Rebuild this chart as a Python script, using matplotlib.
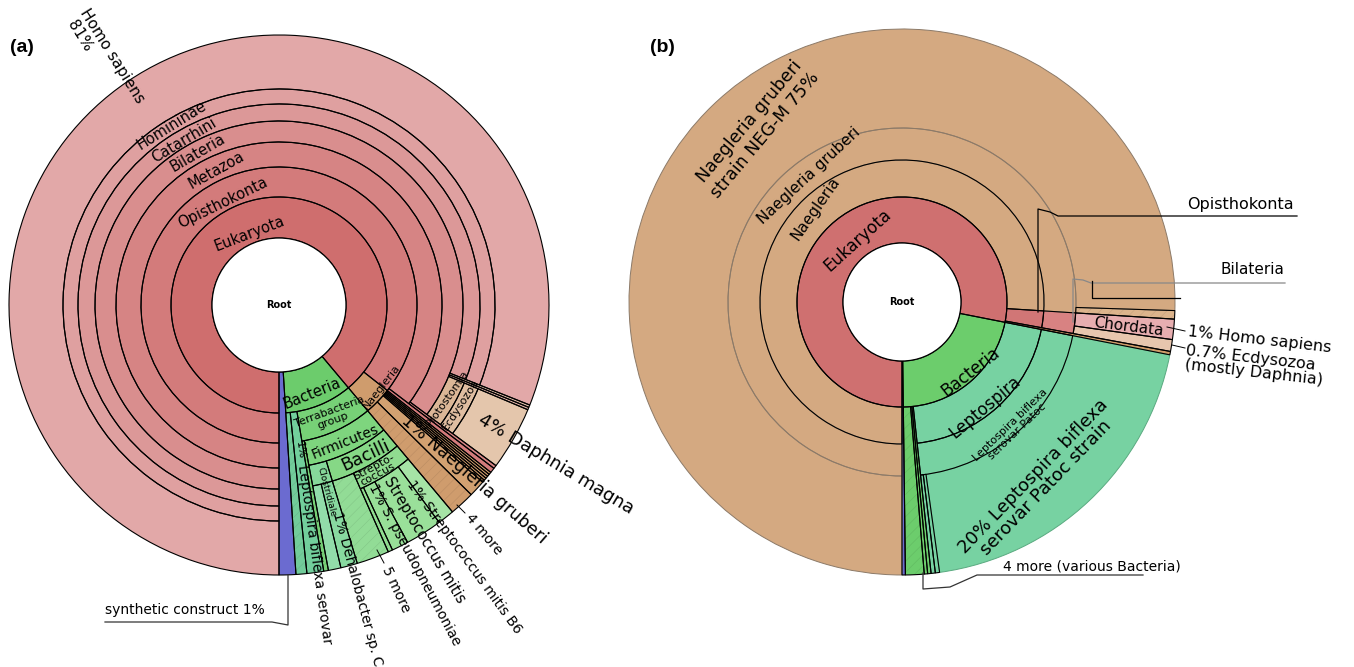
import matplotlib
matplotlib.use("Agg")
import matplotlib.pyplot as plt
from matplotlib.patches import Wedge, Circle
from matplotlib.colors import to_rgb

# ---------------- data: (name, own percent, children) ----------------
# "own" on a node that has children = reads not assigned lower (drawn hatched)

# panel (a)
bact_a = [
    ("Leptospira biflexa serovar", 1.0, []),
    ("Terrabacteria group", 0.28, [
        ("Firmicutes", 0.0, [
            ("Clostridia", 0.0, [
                ("Clostridiales", 0.75, []),
                ("Dehalobacter sp. C", 1.0, []),
            ]),
            ("Bacilli", 1.95, [
                ("Streptococcus", 0.27, [
                    ("S. pseudopneumoniae", 1.0, []),
                    ("Streptococcus mitis", 2.2, []),
                    ("Streptococcus mitis B6", 1.0, []),
                ]),
            ]),
        ]),
    ]),
]
naeg_a = [("Naegleria gruberi", 1.0, [])] + [("Naegleria other %d" % i, 0.15, []) for i in range(5)]
proto_a = [("Protostomia", 0.0, [("Ecdysozoa", 0.0, [("Daphnia magna", 3.8, [])])])]
bilat_other_a = [("Bilateria other 1", 0.15, []), ("Bilateria other 2", 0.15, [])]
homo_a = [("Catarrhini", 0.0, [("Homininae", 0.0, [("Homo sapiens", 81.0, [])])])]
tree_a = [
    ("synthetic construct", 1.0, []),
    ("Bacteria", 0.65, bact_a),
    ("Eukaryota", 0.0, [
        ("Naegleria", 1.5, naeg_a),
        ("Opisthokonta", 0.0, [
            ("Opisthokonta other", 0.3, []),
            ("Metazoa", 0.0, [
                ("Metazoa other", 0.2, []),
                ("Bilateria", 0.0, proto_a + bilat_other_a + homo_a),
            ]),
        ]),
    ]),
]

# panel (b)
bact_b = [
    ("Bacteria other 1", 0.2, []),
    ("Bacteria other 2", 0.2, []),
    ("Leptospira", 0.0, [
        ("Leptospira biflexa serovar Patoc", 0.0, [
            ("Patoc other 1", 0.25, []),
            ("Patoc other 2", 0.25, []),
            ("Leptospira biflexa serovar Patoc strain", 19.7, []),
        ]),
    ]),
]
tree_b = [
    ("synthetic construct", 0.2, []),
    ("Bacteria", 1.1, bact_b),
    ("Eukaryota", 0.0, [
        ("Naegleria sp.", 0.2, []),
        ("Opisthokonta", 0.0, [
            ("Bilateria", 0.0, [("Ecdysozoa", 0.7, []), ("Chordata", 1.2, [])]),
        ]),
        ("Naegleria", 0.0, [
            ("Naegleria gruberi", 0.5, [("Naegleria gruberi strain NEG-M", 75.5, [])]),
        ]),
    ]),
]

# ---------------- styles ----------------
colors_a = {
    "synthetic construct": "#6b6bd0",
    "Bacteria": "#6ccc6c", "Bacteria unassigned": "#72cc9a",
    "Leptospira biflexa serovar": "#72cf9c",
    "Terrabacteria group": "#77d177", "Firmicutes": "#7ed57e",
    "Clostridia": "#86d89a", "Clostridiales": "#92dcaa", "Dehalobacter sp. C": "#88d9a0",
    "Bacilli": "#86d886", "Bacilli unassigned": "#92dc96", "Streptococcus": "#90dc90",
    "S. pseudopneumoniae": "#98df98", "Streptococcus mitis": "#9ae09a",
    "Streptococcus mitis B6": "#a6e4a6",
    "Eukaryota": "#cf6e6e", "Naegleria": "#cf9c6d", "Naegleria gruberi": "#d2a171",
    "Opisthokonta": "#d37b7b", "Metazoa": "#d68484", "Bilateria": "#d98e8e",
    "Bilateria other 1": "#e2b4a8", "Bilateria other 2": "#e0bca8",
    "Protostomia": "#dcb797", "Ecdysozoa": "#e0bea2", "Daphnia magna": "#e4c6ac",
    "Catarrhini": "#dc9898", "Homininae": "#dfa0a0", "Homo sapiens": "#e2a8a8",
}
colors_b = {
    "synthetic construct": "#6b6bd0",
    "Bacteria": "#6ccd6c", "Leptospira": "#77d2a2",
    "Leptospira biflexa serovar Patoc": "#77d2a2",
    "Leptospira biflexa serovar Patoc strain": "#77d2a2",
    "Eukaryota": "#cf7070", "Naegleria sp.": "#d09a68",
    "Opisthokonta": "#d17676", "Bilateria": "#d88282",
    "Ecdysozoa": "#e7c6ae", "Chordata": "#e7aeb0",
    "Naegleria": "#d4a981", "Naegleria gruberi": "#d4a981",
    "Naegleria gruberi unassigned": "#dcb48c",
    "Naegleria gruberi strain NEG-M": "#d4a981",
}
soft_edges_b = {
    "Naegleria gruberi": "#8c7a68",
    "Naegleria gruberi strain NEG-M": "#8c7a68",
    "Leptospira biflexa serovar Patoc strain": "#5aaa80",
}

plt.rcParams["font.family"] = ["DejaVu Sans"]
plt.rcParams["hatch.linewidth"] = 0.4


def node_total(own, kids):
    return own + sum(node_total(o, k) for _, o, k in kids)


def layout(nodes, depth, start, deg_per, out, parent_color, colors):
    a = start
    for name, own, kids in nodes:
        span = node_total(own, kids) * deg_per
        col = colors.get(name, parent_color)
        out.append(dict(name=name, depth=depth, a1=a, a2=a + span,
                        leaf=not kids, color=col, hatch=False))
        if kids:
            b = a
            if own > 0:
                out.append(dict(name=name + " unassigned", depth=depth + 1, a1=b,
                                a2=b + own * deg_per, leaf=True,
                                color=colors.get(name + " unassigned", col), hatch=True))
                b += own * deg_per
            layout(kids, depth + 1, b, deg_per, out, col, colors)
        a += span


def darker(c, f=0.9):
    r, g, b = to_rgb(c)
    return (r * f, g * f, b * f)


def draw_panel(ax, tree, cx, cy, radii, start, colors, soft_edges=None):
    soft_edges = soft_edges or {}
    segs = []
    tot = sum(node_total(o, k) for _, o, k in tree)
    layout(tree, 1, start, 360.0 / tot, segs, "#cccccc", colors)
    shapes = []
    for s in segs:
        r_in = radii[s["depth"] - 1]
        r_out = radii[-1] if s["leaf"] else radii[s["depth"]]
        # screen angles (y axis points down) -> data angles
        t1, t2 = -s["a2"], -s["a1"]
        ax.add_patch(Wedge((cx, cy), r_out, t1, t2, width=r_out - r_in,
                           facecolor=s["color"], lw=0))
        if s["hatch"]:
            ax.add_patch(Wedge((cx, cy), r_out, t1, t2, width=r_out - r_in,
                               facecolor="none", edgecolor=darker(s["color"]),
                               hatch="///", lw=0))
        shapes.append((s["name"], (cx, cy), r_out, t1, t2, r_out - r_in))
    # outlines: soft ones first, black on top
    for name, c, r, t1, t2, w in shapes:
        if name in soft_edges:
            ax.add_patch(Wedge(c, r, t1, t2, width=w, fill=False,
                               edgecolor=soft_edges[name], lw=0.7))
    for name, c, r, t1, t2, w in shapes:
        if name not in soft_edges:
            ax.add_patch(Wedge(c, r, t1, t2, width=w, fill=False,
                               edgecolor="black", lw=0.8))
    ax.add_patch(Circle((cx, cy), radii[0], facecolor="white", edgecolor="black", lw=0.9))
    ax.text(cx, cy, "Root", ha="center", va="center", fontsize=7, fontweight="bold")


fig = plt.figure(figsize=(13.54, 6.67), dpi=100)
ax = fig.add_axes([0, 0, 1, 1])
ax.set_xlim(0, 1354)
ax.set_ylim(667, 0)
ax.set_aspect("equal")
ax.axis("off")

draw_panel(ax, tree_a, 279, 305, [67, 108, 138, 163, 184, 201, 216, 270], -90, colors_a)
draw_panel(ax, tree_b, 902, 302, [59, 105, 142, 174, 273], -90, colors_b, soft_edges_b)

ax.text(10, 47, "(a)", fontsize=14, fontweight="bold", family="Liberation Sans", va="center")
ax.text(650, 47, "(b)", fontsize=14, fontweight="bold", family="Liberation Sans", va="center")


def lbl(x, y, s, rot=0, size=10, **kw):
    ax.text(x, y, s, rotation=rot, fontsize=size, ha=kw.pop("ha", "center"),
            va=kw.pop("va", "center"), rotation_mode="anchor", **kw)


# ---- panel (a) ring labels ----
lbl(250, 234, "Eukaryota", 21, 10.5)
lbl(223, 203, "Opisthokonta", 26, 10.5)
lbl(216, 170, "Metazoa", 29, 10.5)
lbl(198, 153, "Bilateria", 30, 10.5)
lbl(184, 140, "Catarrhini", 31, 10.5)
lbl(172, 125, "Homininae", 32, 10.5)
lbl(83, 10, "Homo sapiens", -58, 11, ha="left")
lbl(71, 22, "81%", -58, 11, ha="left")
lbl(312, 393, "Bacteria", 22, 10.5)
lbl(331, 416, "Terrabacteria\ngroup", 20, 8, linespacing=0.95)
lbl(345, 442, "Firmicutes", 22, 10)
lbl(366, 456, "Bacilli", 25, 12.5)
lbl(376, 471, "Strepto-\ncoccus", 28, 8, linespacing=0.85)
lbl(382, 387, "Naegleria", 52, 8)
lbl(447, 398, "Protostomia", 55, 8)
lbl(461, 405, "Ecdysozoa", 57, 8)

# ---- panel (a) radial labels ----
lbl(300, 450, "1%", -82, 8, ha="center")
lbl(302, 465, "Leptospira biflexa serovar", -82, 10, ha="left")
lbl(320, 467, "Clostridiale", -75, 6.5, ha="left")
lbl(337, 512, "1% Dehalobacter sp. C", -75, 10, ha="left")
lbl(386, 567, "5 more", -65, 10, ha="left")
lbl(372, 485, "1% S. pseudopneumoniae", -62, 10, ha="left")
lbl(387, 478, "Streptococcus mitis", -59, 10.5, ha="left")
lbl(410, 482, "1% Streptococcus mitis B6", -54, 10, ha="left")
lbl(468, 515, "4 more", -50, 10, ha="left")
lbl(404, 418, "1% Naegleria gruberi", -41, 12.5, ha="left")
lbl(480, 418, "4% Daphnia magna", -31, 13, ha="left")

ax.plot([377, 384], [550, 563], color="black", lw=0.7)
ax.plot([457, 465], [505, 513], color="black", lw=0.7)
ax.plot([105, 272, 288, 288], [622, 622, 625, 575], color="#333333", lw=0.9)
ax.text(105, 614, "synthetic construct 1%", fontsize=10, ha="left", va="baseline")

# ---- panel (b) labels ----
lbl(858, 240, "Eukaryota", 42, 12)
lbl(816, 208, "Naegleria", 55, 11)
lbl(809, 176, "Naegleria gruberi", 43, 11)
lbl(757, 128, "Naegleria gruberi\nstrain NEG-M 75%", 50, 12.5)
lbl(970, 372, "Bacteria", 38, 12)
lbl(985, 407, "Leptospira", 40, 12)
lbl(1014, 428, "Leptospira biflexa\nserovar Patoc", 44, 8, linespacing=0.95)
lbl(1040, 482, "20% Leptospira biflexa\nserovar Patoc strain", 46, 13, linespacing=0.95)
lbl(1129, 327, "Chordata", -7, 11)
lbl(1188, 332, "1% Homo sapiens", -6.5, 11.5, ha="left")
lbl(1187, 343, "0.7% Ecdysozoa\n(mostly Daphnia)", -6.5, 11.5, ha="left", va="top",
    linespacing=0.95)
lbl(1240, 205, "Opisthokonta", 0, 11.5)
lbl(1252, 270, "Bilateria", 0, 11)
lbl(1092, 566, "4 more (various Bacteria)", 0, 10)

ax.plot([1038, 1038, 1050, 1058, 1297], [312, 209, 212, 216, 216], color="black", lw=0.9)
ax.plot([1073, 1073, 1083, 1091, 1285], [322, 279, 280, 283, 283], color="#888888", lw=0.9)
ax.plot([1092, 1092, 1180], [281, 298, 298], color="black", lw=0.9)
ax.plot([1167, 1185], [327, 331], color="black", lw=0.7)
ax.plot([1172, 1185], [345, 348], color="black", lw=0.7)
ax.plot([923, 923, 950, 977, 1143], [573, 589, 587, 575, 575], color="#333333", lw=0.9)

fig.savefig("out.png", dpi=100)
